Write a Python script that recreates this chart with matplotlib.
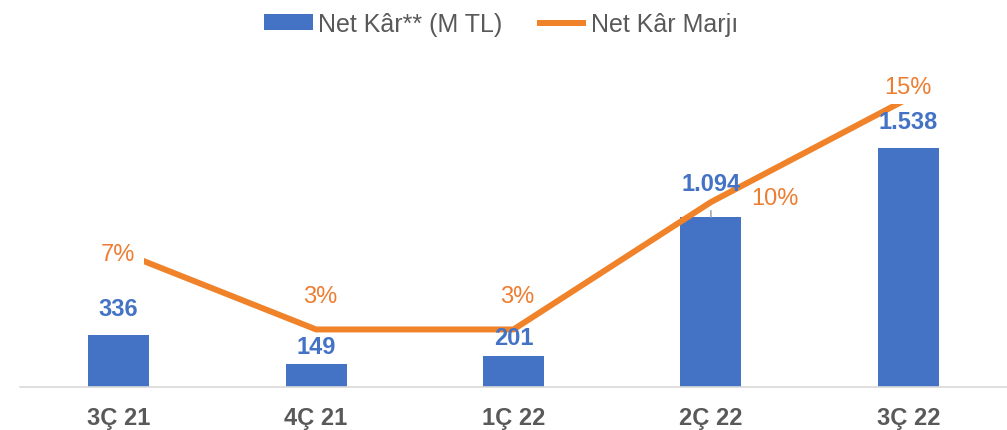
import matplotlib.pyplot as plt
from matplotlib.patches import Rectangle
import numpy as np

plt.rcParams['font.family'] = ['Liberation Sans', 'DejaVu Sans']

quarters = ['3Ç 21', '4Ç 21', '1Ç 22', '2Ç 22', '3Ç 22']
net_kar = [336, 149, 201, 1094, 1538]
net_kar_labels = ['336', '149', '201', '1.094', '1.538']
marj = [7.2, 3.05, 3.05, 9.8, 15.3]
marj_labels = ['7%', '3%', '3%', '10%', '15%']

blue = '#4472C4'
orange = '#F0832A'
orange_txt = '#ED7D31'
gray = '#595959'

fig = plt.figure(figsize=(10.07, 4.31), dpi=100)
ax = fig.add_axes([20 / 1007, 43 / 431, 987 / 1007, 283 / 431])
x = np.arange(len(quarters))

bars = ax.bar(x, net_kar, width=0.31, color=blue, label='Net Kâr** (M TL)', zorder=2)
ax.set_xlim(-0.5, 4.5)
ax.set_ylim(0, 1821)
ax.set_yticks([])
for s in ['top', 'left', 'right']:
    ax.spines[s].set_visible(False)
ax.spines['bottom'].set_color('#D9D9D9')
ax.spines['bottom'].set_linewidth(1.2)
ax.set_xticks(x)
ax.set_xticklabels(quarters, fontsize=17, fontweight='bold', color=gray)
ax.tick_params(axis='x', length=0, pad=14)

ax2 = ax.twinx()
ax2.set_ylim(0, 15)
ax2.set_yticks([])
for s in ax2.spines.values():
    s.set_visible(False)
line, = ax2.plot(x, marj, color=orange, lw=4.3, solid_capstyle='butt',
                 label='Net Kâr Marjı', zorder=3)
# the line starts a little right of the first category and is cut at the plot top
clip = Rectangle((0.13, 0), 4.5, 15, transform=ax2.transData)
line.set_clip_path(clip)

marj_off = [(-1, -3), (4, 33), (4, 33), (64, 4), (0, 17)]
for i, v in enumerate(marj):
    ax2.annotate(marj_labels[i], xy=(i, min(v, 15)),
                 xytext=(marj_off[i][0] * 0.72, marj_off[i][1] * 0.72),
                 textcoords='offset points', ha='center', va='center',
                 fontsize=17, color=orange_txt, annotation_clip=False)

# bar labels (offsets in pixels above the bar top), drawn above the line
bar_off = [26, 17, 18, 33, 26]
for i, v in enumerate(net_kar):
    arrow = None
    if i == 3:
        arrow = dict(arrowstyle='-', color='#A6A6A6', lw=1.2, shrinkA=9, shrinkB=0)
    ax2.annotate(net_kar_labels[i], xy=(i, v), xycoords=ax.transData,
                 xytext=(0, bar_off[i] * 0.72), textcoords='offset points',
                 ha='center', va='center', fontsize=17, fontweight='bold',
                 color=blue, zorder=5, arrowprops=arrow)

handles = [bars, line]
fig.legend(handles, ['Net Kâr** (M TL)', 'Net Kâr Marjı'], loc='center',
           bbox_to_anchor=(0.498, 1 - 25 / 431), ncol=2, frameon=False,
           fontsize=18, labelcolor=gray, handlelength=1.95, handleheight=0.6,
           handletextpad=0.2, columnspacing=1.4)

fig.savefig('out.png', dpi=100)
